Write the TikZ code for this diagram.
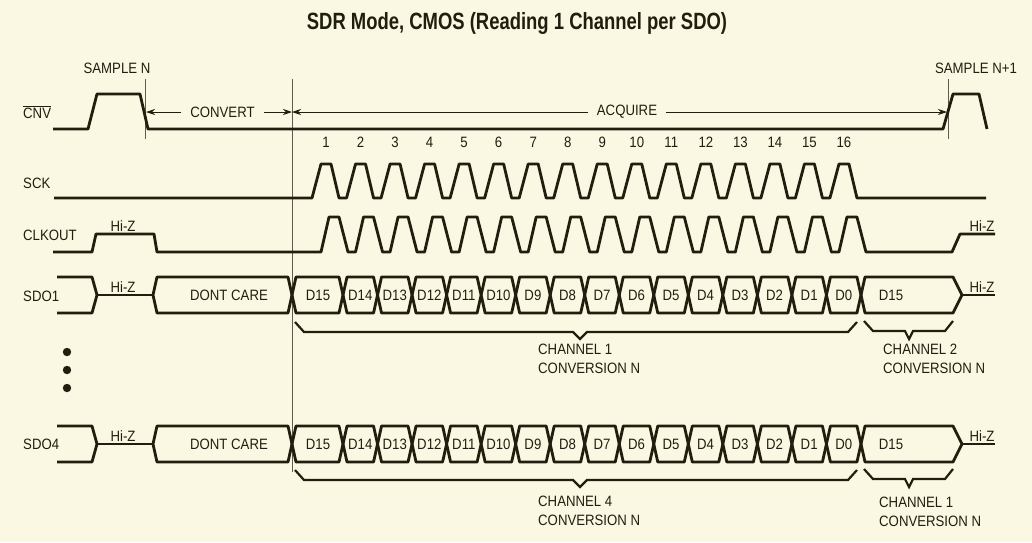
\documentclass[tikz,border=0pt]{standalone}
\usepackage{fontspec}
\setmainfont{Liberation Sans}[FakeStretch=0.88]
\newfontfamily\titlefont{Liberation Sans}[FakeStretch=0.785]
\usetikzlibrary{arrows.meta}
\definecolor{bg}{RGB}{250,248,226}
\definecolor{ink}{RGB}{32,30,14}
\definecolor{guidec}{RGB}{95,92,75}
\newcommand\sdobus[2]{%
  % #1 = mid y, #2 = name prefix
  \draw[sig] (57,#1-18) -- (92,#1-18) -- (97,#1) -- (92,#1+18) -- (57,#1+18);
  \draw[sig] (97,#1) -- (153,#1);
  \node[lbl] (#2hz) at (123,#1-8) {Hi-Z};
  \draw[sig] (153,#1) -- (157,#1-18) -- (288,#1-18) -- (292,#1) -- (288,#1+18) -- (157,#1+18) -- cycle;
  \node[lbl] (#2dc) at (229,#1) {DONT CARE};
  \draw[sig] (292,#1) -- (296,#1-18) -- (339,#1-18) -- (343,#1) -- (339,#1+18) -- (296,#1+18) -- cycle;
  \node[lbl] (#2first) at (318,#1) {D15};
  \foreach \j [evaluate=\j as \d using int(14-\j)] in {0,...,14}{
    \draw[sig] ({343+34.53*\j},#1) -- ({343+34.53*\j+4},{#1-18}) -- ({343+34.53*(\j+1)-4},{#1-18})
      -- ({343+34.53*(\j+1)},#1) -- ({343+34.53*(\j+1)-4},{#1+18}) -- ({343+34.53*\j+4},{#1+18}) -- cycle;
    \node[lbl] (#2c\j) at ({343+34.53*(\j+0.5)},#1) {D\d};
  }
  \draw[sig] (861,#1) -- (865,#1-18) -- (953,#1-18) -- (962,#1) -- (953,#1+18) -- (865,#1+18) -- cycle;
  \node[lbl] (#2last) at (891,#1) {D15};
  \draw[sig] (962,#1) -- (995,#1);
  \node[lbl] (#2hzr) at (982,#1-8) {Hi-Z};
}
\begin{document}
\begin{tikzpicture}[x=1pt,y=-1pt,
  sig/.style={draw=ink, line width=2.8pt, line join=round, line cap=butt},
  guide/.style={draw=guidec, line width=0.9pt},
  arr/.style={draw=ink, line width=0.9pt, -{Stealth[length=9pt,width=6pt]}},
  bracestyle/.style={draw=ink, line width=2.2pt, line join=miter},
  lbl/.style={font=\fontsize{15}{19}\selectfont, text=ink, inner sep=0pt},
  ttl/.style={font=\titlefont\bfseries\fontsize{23.5}{28}\selectfont, text=ink, inner sep=0pt}]
\fill[bg] (0,0) rectangle (1032,542);
\useasboundingbox (0,0) rectangle (1032,542);

\node[ttl] (title) at (517,23) {SDR Mode, CMOS (Reading 1 Channel per SDO)};

% row labels
\node[lbl,anchor=west] (lcnv) at (23,112) {$\overline{\mbox{CNV}}$};
\node[lbl,anchor=west] (lsck) at (23,183) {SCK};
\node[lbl,anchor=west] (lclk) at (23,235) {CLKOUT};
\node[lbl,anchor=west] (lsdo1) at (23,296) {SDO1};
\node[lbl,anchor=west] (lsdo4) at (23,444) {SDO4};

% guides
\coordinate (gA1) at (145,79); \coordinate (gA2) at (145,139);
\coordinate (gB1) at (292,79); \coordinate (gB2) at (292,472);
\coordinate (gC1) at (948,79); \coordinate (gC2) at (948,139);
\draw[guide] (gA1) -- (gA2);
\draw[guide] (gB1) -- (gB2);
\draw[guide] (gC1) -- (gC2);

\node[lbl] (sn) at (117,68) {SAMPLE N};
\node[lbl] (sn1) at (976,68) {SAMPLE N+1};

% convert / acquire arrows
\node[lbl, inner xsep=9pt] (conv) at (222.5,112) {CONVERT};
\coordinate (convL) at (146,112); \coordinate (convR) at (292,112);
\draw[arr] (conv.west) -- (convL);
\draw[arr] (conv.east) -- (convR);
\node[lbl, inner xsep=9pt] (acq) at (627,112) {ACQUIRE};
\coordinate (acqL) at (292,112); \coordinate (acqR) at (947,112);
\draw[arr] (acq.west) -- (acqL);
\draw[arr] (acq.east) -- (acqR);

% CNV
\draw[sig] (53,129) -- (88,129) -- (97,94) -- (140,94) -- (148,129) -- (943,129) -- (953,94) -- (979,94) -- (987,129);

% SCK
\draw[sig] (54,198) \foreach \k in {0,...,15}{ -- ({326+34.53*\k-14},198) -- ({326+34.53*\k-5},164) -- ({326+34.53*\k+5},164) -- ({326+34.53*\k+13},198)} -- (986,198);
\foreach \k in {1,...,16} \node[lbl] (num\k) at ({326+34.53*(\k-1)},142) {\k};

% CLKOUT
\draw[sig] (53,252) -- (92,252) -- (96,234) -- (154,234) -- (157,252)
  \foreach \k in {0,...,15}{ -- ({334.5+34.53*\k-13.5},252) -- ({334.5+34.53*\k-5.5},217) -- ({334.5+34.53*\k+4.5},217) -- ({334.5+34.53*\k+13.5},252)}
  -- (952,252) -- (960,234) -- (995,234);
\node[lbl] (clkhz) at (123,226) {Hi-Z};
\node[lbl] (clkhzr) at (982,226) {Hi-Z};

% SDO buses
\sdobus{295}{sa}
\sdobus{444}{sb}

% dots
\fill[ink] (67,352) circle (4.2);
\fill[ink] (67,370) circle (4.2);
\fill[ink] (67,388) circle (4.2);

% braces SDO1
\draw[bracestyle] (295,322) -- (304,332) -- (573,332) -- (580,339) -- (587,332) -- (848,332) -- (857,322);
\draw[bracestyle] (864,321) -- (873,331) -- (905,331) -- (909,339) -- (913,331) -- (945,331) -- (953,321);
\node[lbl, anchor=north west, align=left] (ch1) at (538,344) {CHANNEL 1\\CONVERSION N};
\node[lbl, anchor=north west, align=left] (ch2) at (883,344) {CHANNEL 2\\CONVERSION N};

% braces SDO4
\draw[bracestyle] (295,470) -- (304,480) -- (573,480) -- (580,487) -- (587,480) -- (848,480) -- (857,470);
\draw[bracestyle] (864,469) -- (873,479) -- (905,479) -- (909,487) -- (913,479) -- (945,479) -- (953,469);
\node[lbl, anchor=north west, align=left] (ch4) at (538,496) {CHANNEL 4\\CONVERSION N};
\node[lbl, anchor=north west, align=left] (ch1b) at (879,497) {CHANNEL 1\\CONVERSION N};
\end{tikzpicture}
\end{document}
